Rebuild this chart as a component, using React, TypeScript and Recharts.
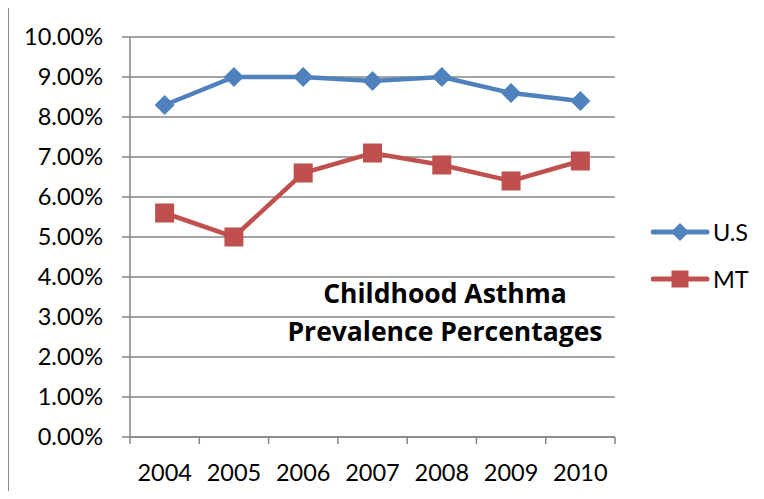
import React from 'react';
import { LineChart, Line, XAxis, YAxis, CartesianGrid, Legend } from 'recharts';

const categories = ['2004', '2005', '2006', '2007', '2008', '2009', '2010'];
const usValues = [8.3, 9.0, 9.0, 8.9, 9.0, 8.6, 8.4];
const mtValues = [5.6, 5.0, 6.6, 7.1, 6.8, 6.4, 6.9];
const yTicks = [0, 1, 2, 3, 4, 5, 6, 7, 8, 9, 10];

const series = [
  { key: 'us', name: 'U.S', color: '#4F81BD', shape: 'diamond' },
  { key: 'mt', name: 'MT', color: '#C0504D', shape: 'square' },
];

const data = categories.map((year, i) => ({ idx: i, year, us: usValues[i], mt: mtValues[i] }));
// labels sit on whole numbers, tick marks between categories on the halves
const xTicks = [-0.5, ...categories.flatMap((_, i) => [i, i + 0.5])];

const FONT = 'Lato, "Open Sans", sans-serif';
const GRID = '#868686';

const Diamond = ({ cx, cy, stroke }: any) => {
  if (cx == null || cy == null) return null;
  const r = 10;
  return <path d={`M${cx},${cy - r}L${cx + r},${cy}L${cx},${cy + r}L${cx - r},${cy}Z`} fill={stroke} />;
};

const Square = ({ cx, cy, stroke }: any) => {
  if (cx == null || cy == null) return null;
  const h = 9.5;
  return <rect x={cx - h} y={cy - h} width={h * 2} height={h * 2} fill={stroke} />;
};

const XTick = ({ x, y, payload }: any) => {
  const v = payload.value;
  if (Number.isInteger(v)) {
    return (
      <text x={x} y={y + 35} textAnchor="middle" dominantBaseline="central" fontSize={23.5} fontFamily={FONT} fill="#000">
        {categories[v]}
      </text>
    );
  }
  return <line x1={x} x2={x} y1={y} y2={y + 7} stroke={GRID} strokeWidth={1.5} />;
};

const LegendContent = () => (
  <div style={{ fontFamily: FONT, fontSize: 23.5, color: '#000' }}>
    {series.map((s) => (
      <div key={s.key} style={{ display: 'flex', alignItems: 'center', height: 47 }}>
        <svg width={60} height={24}>
          <line x1={2} x2={56} y1={12} y2={12} stroke={s.color} strokeWidth={5} strokeLinecap="round" />
          {s.shape === 'diamond' ? (
            <path d="M29,3L38,12L29,21L20,12Z" fill={s.color} />
          ) : (
            <rect x={20.5} y={3.5} width={17} height={17} fill={s.color} />
          )}
        </svg>
        <span style={{ marginLeft: 2 }}>{s.name}</span>
      </div>
    ))}
  </div>
);

export default function App() {
  return (
    <div style={{ position: 'relative', margin: -8, width: 764, height: 499, overflow: 'hidden', background: '#fff' }}>
      <div
        style={{
          position: 'absolute',
          left: 7,
          top: 6,
          width: 900,
          height: 700,
          border: '2px solid #8c8c8c',
          boxSizing: 'border-box',
        }}
      />
      <div style={{ position: 'absolute', left: 0, top: 0 }}>
        <LineChart width={764} height={499} data={data} margin={{ top: 37, right: 149, bottom: 0, left: 0 }}>
          <CartesianGrid vertical={false} stroke={GRID} strokeWidth={1.5} />
          <XAxis
            dataKey="idx"
            type="number"
            domain={[-0.5, 6.5]}
            ticks={xTicks}
            interval={0}
            allowDecimals
            height={62}
            tickSize={0}
            tickMargin={0}
            tickLine={false}
            axisLine={{ stroke: GRID, strokeWidth: 1.5 }}
            tick={<XTick />}
          />
          <YAxis
            domain={[0, 10]}
            ticks={yTicks}
            interval={0}
            width={130}
            tickSize={8}
            tickMargin={19}
            axisLine={{ stroke: GRID, strokeWidth: 1.5 }}
            tickLine={{ stroke: GRID, strokeWidth: 1.5 }}
            tick={{ fill: '#000', fontSize: 23.5, fontFamily: FONT }}
            tickFormatter={(v: number) => `${v.toFixed(2)}%`}
          />
          <Legend
            layout="vertical"
            align="center"
            verticalAlign="middle"
            content={<LegendContent />}
            wrapperStyle={{ left: 651, top: 208, width: 'auto' }}
          />
          <Line
            dataKey="us"
            name="U.S"
            stroke="#4F81BD"
            strokeWidth={4.5}
            dot={<Diamond />}
            activeDot={false}
            isAnimationActive={false}
          />
          <Line
            dataKey="mt"
            name="MT"
            stroke="#C0504D"
            strokeWidth={4.5}
            dot={<Square />}
            activeDot={false}
            isAnimationActive={false}
          />
        </LineChart>
      </div>
      <div
        style={{
          position: 'absolute',
          left: 255,
          top: 274,
          width: 380,
          textAlign: 'center',
          fontFamily: '"Open Sans", Lato, sans-serif',
          fontWeight: 700,
          fontSize: 26.5,
          lineHeight: '38px',
          color: '#000',
        }}
      >
        <div>Childhood Asthma</div>
        <div>Prevalence Percentages</div>
      </div>
    </div>
  );
}
